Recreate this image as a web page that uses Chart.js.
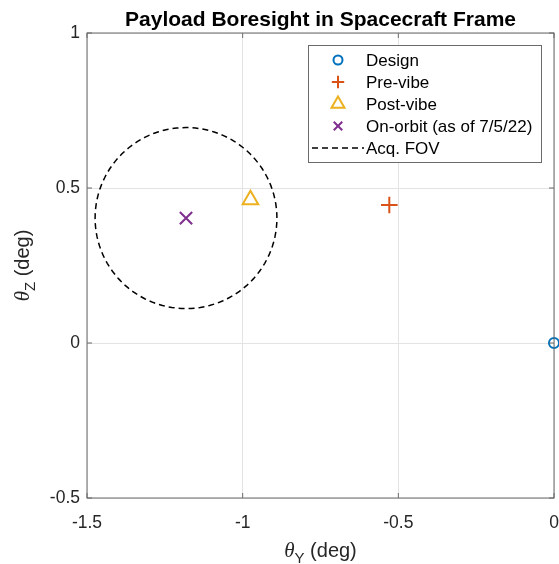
<!DOCTYPE html>
<html>
<head>
<meta charset="utf-8">
<script src="https://cdn.jsdelivr.net/npm/chart.js@4"></script>
<style>
  body { margin: 0; background: #fff; }
  #wrap { width: 559px; height: 564px; }
</style>
</head>
<body>
<div id="wrap"><canvas id="boresightChart" width="559" height="564"></canvas></div>
<script>
// boresight measurements (deg)
const seriesNames = ['Design', 'Pre-vibe', 'Post-vibe', 'On-orbit (as of 7/5/22)'];
const thetaY = [0, -0.529, -0.975, -1.182];
const thetaZ = [0, 0.445, 0.462, 0.403];
const seriesColors = ['#0072BD', '#D95319', '#EDB120', '#7E2F8E'];
const seriesStyles = ['circle', 'cross', 'triangle', 'crossRot'];
const seriesSizes = [5, 8.3, 9, 8.7];
const legendSizes = [4.5, 6.2, 7.5, 6];

// acquisition field of view
const fovLabel = 'Acq. FOV';
const fovCenter = [-1.182, 0.403];
const fovRadius = 0.292;

const xTicks = [-1.5, -1, -0.5, 0];
const yTicks = [-0.5, 0, 0.5, 1];

const fovPoints = [];
for (let a = 0; a <= 360; a += 3) {
    const r = a * Math.PI / 180;
    fovPoints.push({ x: fovCenter[0] + fovRadius * Math.cos(r), y: fovCenter[1] + fovRadius * Math.sin(r) });
}

const AXIS = '#6b6b6b';
const TEXT = '#262626';

const datasets = seriesNames.map((name, i) => ({
    label: name,
    data: [{ x: thetaY[i], y: thetaZ[i] }],
    pointStyle: seriesStyles[i],
    pointRadius: seriesSizes[i],
    pointBorderWidth: 2,
    borderColor: seriesColors[i],
    backgroundColor: 'rgba(0,0,0,0)',
    clip: false
}));
datasets.push({
    label: fovLabel,
    data: fovPoints,
    showLine: true,
    pointRadius: 0,
    borderColor: '#000',
    borderWidth: 1.5,
    borderDash: [6, 4],
    fill: false
});

function drawAxisTitle(ctx, sub) {
    // theta with subscript, then " (deg)"
    ctx.font = 'italic 21px "Liberation Serif"';
    const w1 = ctx.measureText('\u03b8').width;
    ctx.font = '15px "Liberation Sans"';
    const w2 = ctx.measureText(sub).width;
    ctx.font = '20px "Liberation Sans"';
    const w3 = ctx.measureText(' (deg)').width;
    let x = -(w1 + w2 + w3) / 2;
    ctx.textAlign = 'left';
    ctx.textBaseline = 'alphabetic';
    ctx.fillStyle = TEXT;
    ctx.font = 'italic 21px "Liberation Serif"';
    ctx.fillText('\u03b8', x, 0);
    x += w1;
    ctx.font = '15px "Liberation Sans"';
    ctx.fillText(sub, x, 6);
    x += w2;
    ctx.font = '20px "Liberation Sans"';
    ctx.fillText(' (deg)', x, 0);
}

const matlabFrame = {
    id: 'matlabFrame',
    afterDraw(chart) {
        const ctx = chart.ctx;
        const a = chart.chartArea;
        const xs = chart.scales.x, ys = chart.scales.y;
        ctx.save();
        // box
        ctx.strokeStyle = AXIS;
        ctx.lineWidth = 1;
        ctx.strokeRect(a.left, a.top, a.right - a.left, a.bottom - a.top);
        // inward ticks
        ctx.beginPath();
        xTicks.forEach(v => {
            const px = xs.getPixelForValue(v);
            ctx.moveTo(px, a.bottom); ctx.lineTo(px, a.bottom - 5);
            ctx.moveTo(px, a.top); ctx.lineTo(px, a.top + 5);
        });
        yTicks.forEach(v => {
            const py = ys.getPixelForValue(v);
            ctx.moveTo(a.left, py); ctx.lineTo(a.left + 5, py);
            ctx.moveTo(a.right, py); ctx.lineTo(a.right - 5, py);
        });
        ctx.stroke();

        // title
        ctx.fillStyle = '#000';
        ctx.font = 'bold 21px "Liberation Sans"';
        ctx.textAlign = 'center';
        ctx.textBaseline = 'alphabetic';
        ctx.fillText('Payload Boresight in Spacecraft Frame', (a.left + a.right) / 2, 26);

        // axis titles
        ctx.save();
        ctx.translate((a.left + a.right) / 2, 557);
        drawAxisTitle(ctx, 'Y');
        ctx.restore();
        ctx.save();
        ctx.translate(29, (a.top + a.bottom) / 2);
        ctx.rotate(-Math.PI / 2);
        drawAxisTitle(ctx, 'Z');
        ctx.restore();

        // legend
        const lx = 308, ly = 45, lw = 233, lh = 117;
        ctx.fillStyle = '#fff';
        ctx.fillRect(lx, ly, lw, lh);
        ctx.strokeStyle = AXIS;
        ctx.strokeRect(lx + 0.5, ly + 0.5, lw, lh);
        const rows = chart.data.datasets;
        rows.forEach((ds, i) => {
            const cy = 60 + i * 22;
            if (ds.showLine) {
                ctx.strokeStyle = '#000';
                ctx.lineWidth = 1.5;
                ctx.setLineDash([6, 4]);
                ctx.beginPath();
                ctx.moveTo(312, cy); ctx.lineTo(364, cy);
                ctx.stroke();
                ctx.setLineDash([]);
            } else {
                ctx.fillStyle = 'rgba(0,0,0,0)';
                ctx.strokeStyle = ds.borderColor;
                ctx.lineWidth = 2;
                Chart.helpers.drawPoint(ctx, {
                    pointStyle: ds.pointStyle,
                    radius: legendSizes[i],
                    borderWidth: 2,
                    rotation: 0
                }, 338, cy);
            }
            ctx.fillStyle = '#000';
            ctx.font = '17px "Liberation Sans"';
            ctx.textAlign = 'left';
            ctx.textBaseline = 'middle';
            ctx.fillText(ds.label, 366, cy + 1);
        });
        ctx.restore();
    }
};

new Chart(document.getElementById('boresightChart'), {
    type: 'scatter',
    data: { datasets: datasets },
    options: {
        responsive: false,
        animation: false,
        layout: { autoPadding: false, padding: { left: 0, right: 5, top: 33, bottom: 0 } },
        plugins: { legend: { display: false }, tooltip: { enabled: false } },
        scales: {
            x: {
                type: 'linear',
                min: -1.5,
                max: 0,
                afterBuildTicks: s => { s.ticks = xTicks.map(v => ({ value: v })); },
                afterFit: s => { s.height = 66; s.paddingLeft = 0; s.paddingRight = 0; },
                grid: { color: '#e3e3e3', drawTicks: false },
                border: { display: false },
                ticks: {
                    color: TEXT,
                    font: { family: 'Liberation Sans', size: 17.5 },
                    padding: 15,
                    maxRotation: 0,
                    callback: v => String(v)
                }
            },
            y: {
                type: 'linear',
                min: -0.5,
                max: 1,
                afterBuildTicks: s => { s.ticks = yTicks.map(v => ({ value: v })); },
                afterFit: s => { s.width = 87; s.paddingTop = 0; s.paddingBottom = 0; },
                grid: { color: '#e3e3e3', drawTicks: false },
                border: { display: false },
                ticks: {
                    color: TEXT,
                    font: { family: 'Liberation Sans', size: 17.5 },
                    padding: 7,
                    callback: v => String(v)
                }
            }
        }
    },
    plugins: [matlabFrame]
});
</script>
</body>
</html>
